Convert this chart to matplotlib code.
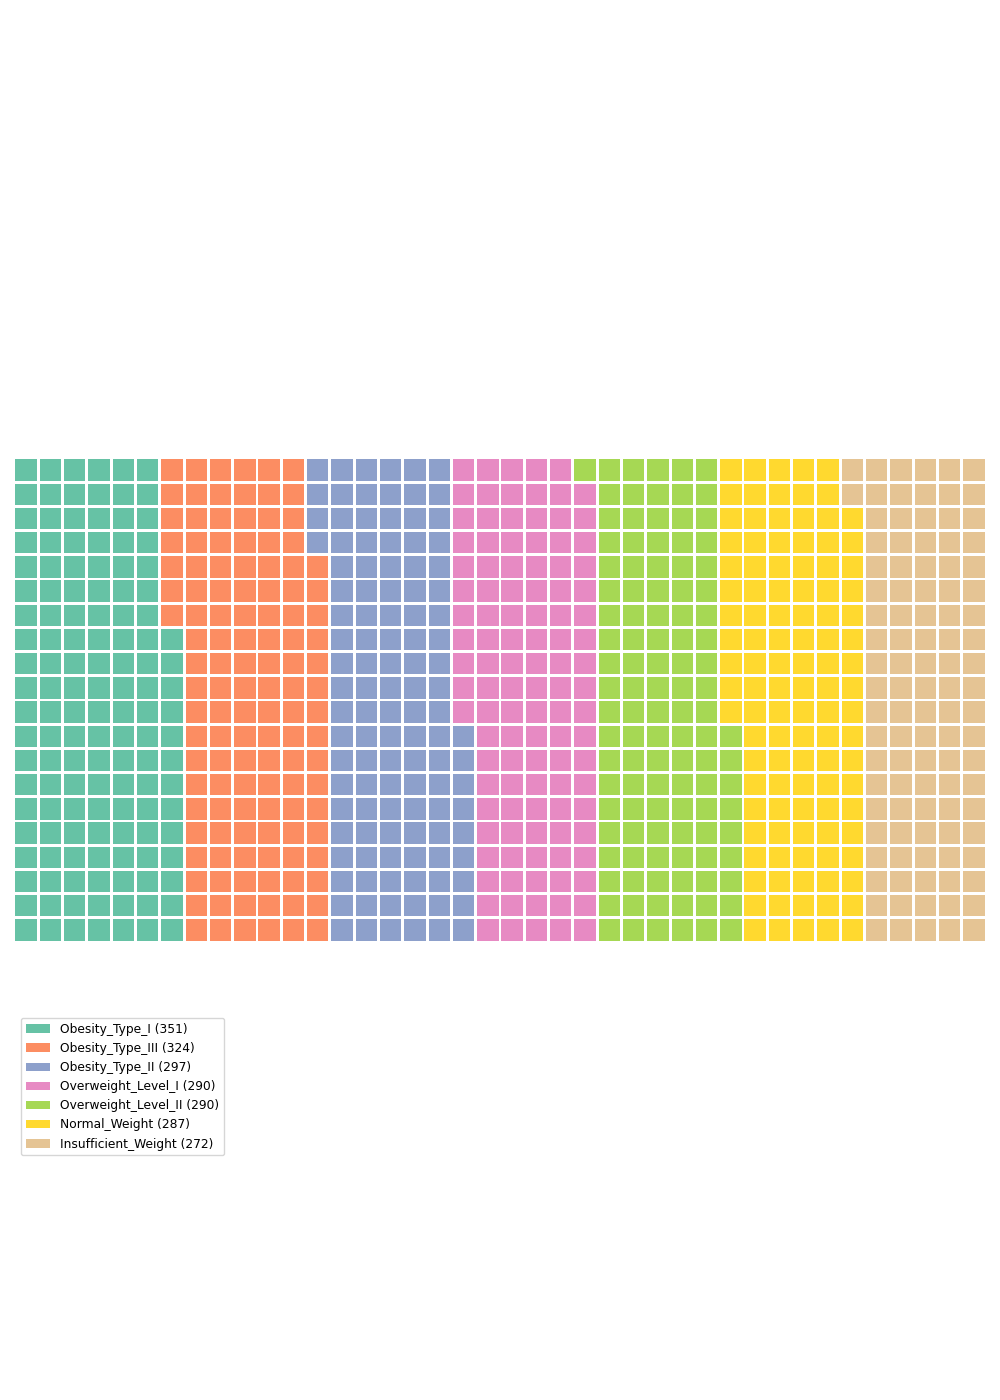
import matplotlib
matplotlib.use("Agg")
import matplotlib.pyplot as plt
from matplotlib.patches import Rectangle, Patch

categories = ["Obesity_Type_I", "Obesity_Type_III", "Obesity_Type_II",
              "Overweight_Level_I", "Overweight_Level_II", "Normal_Weight",
              "Insufficient_Weight"]
values = [351, 324, 297, 290, 290, 287, 272]
colors = ["#66c2a5", "#fc8d62", "#8da0cb", "#e78ac3", "#a6d854", "#ffd92f", "#e5c494"]

n_rows, n_cols = 20, 40
total_cells = n_rows * n_cols
total = sum(values)
cells = [round(v / total * total_cells) for v in values]
diff = sum(cells) - total_cells
cells[-1] -= diff

fig = plt.figure(figsize=(10, 14), dpi=100)
ax = fig.add_axes([0.014, 1 - 942 / 1400, 0.972, 484 / 1400])
ax.set_xlim(0, n_cols)
ax.set_ylim(0, n_rows)
ax.set_aspect("auto")
ax.axis("off")

gap = 0.12
idx = 0
for cat_i, n in enumerate(cells):
    for _ in range(n):
        col = idx // n_rows
        row = idx % n_rows
        ax.add_patch(Rectangle((col + gap / 2, row + gap / 2), 1 - gap, 1 - gap,
                               facecolor=colors[cat_i], edgecolor="none"))
        idx += 1

handles = [Patch(facecolor=c, label=f"{cat} ({v})") for cat, v, c in zip(categories, values, colors)]
fig.legend(handles=handles, loc="upper left", bbox_to_anchor=(0.021, 1 - 1018 / 1400),
           bbox_transform=fig.transFigure, borderaxespad=0, fontsize=8.8, frameon=True)

fig.savefig("out.png", dpi=100)
